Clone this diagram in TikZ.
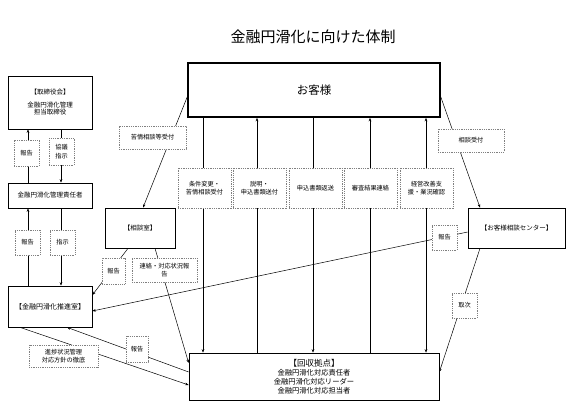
\documentclass[tikz,border=0pt]{standalone}
\usepackage{fontspec}
\setmainfont{Noto Sans CJK JP}
\usetikzlibrary{arrows.meta}

\begin{document}
\begin{tikzpicture}[
  x=1pt, y=-1pt,
  box/.style={rectangle, draw, line width=0.7pt, align=center, inner sep=1pt,
              font=\fontsize{6.5}{7.5}\selectfont},
  lbl/.style={rectangle, draw=gray, dash pattern=on 1pt off 0.8pt, fill=white,
              align=center, inner sep=1pt, font=\fontsize{6.2}{8.5}\selectfont},
  arr/.style={-{Stealth[length=3.5pt,width=2.6pt]}, line width=0.5pt},
]
  \useasboundingbox (0,0) rectangle (577,414);
  \node[font=\fontsize{15}{17}\selectfont] (title) at (313,37) {金融円滑化に向けた体制};

  % boxes
  \node[box, line width=1.6pt, minimum width=252pt, minimum height=54pt,
        font=\fontsize{11.5}{13}\selectfont] (cust) at (314,90) {お客様};
  \node[box, minimum width=84pt, minimum height=53pt] (board) at (50,102.5)
        {【取締役会】\\[5pt]金融円滑化管理\\担当取締役};
  \node[box, minimum width=84pt, minimum height=25pt] (mgr) at (50,195.5) {金融円滑化管理責任者};
  \node[box, minimum width=84pt, minimum height=41pt, font=\fontsize{7}{8}\selectfont]
        (promo) at (50,306.5) {【金融円滑化推進室】};
  \node[box, minimum width=70pt, minimum height=40pt] (soudan) at (140,228) {【相談室】};
  \node[box, minimum width=97pt, minimum height=40pt] (center) at (516.5,228) {【お客様相談センター】};
  \node[box, minimum width=250pt, minimum height=47pt, font=\fontsize{7.3}{8.7}\selectfont]
        (kaishu) at (314,376.5) {{\fontsize{8.5}{10}\selectfont【回収拠点】}\\[1pt]金融円滑化対応責任者\\金融円滑化対応リーダー\\金融円滑化対応担当者};

  % connectors
  \draw[arr] ([xshift=-111pt]cust.south) -- ([xshift=-111pt]kaishu.north);
  \draw[arr] ([xshift=-57pt]kaishu.north) -- ([xshift=-57pt]cust.south);
  \draw[arr] ([xshift=-1pt]cust.south) -- ([xshift=-1pt]kaishu.north);
  \draw[arr] ([xshift=56pt]kaishu.north) -- ([xshift=56pt]cust.south);
  \draw[arr, {Stealth[length=3.5pt,width=2.6pt]}-{Stealth[length=3.5pt,width=2.6pt]}]
        ([xshift=112pt]cust.south) -- ([xshift=112pt]kaishu.north);

  \draw[arr] ([xshift=-22pt]mgr.north) -- ([xshift=-22pt]board.south);
  \draw[arr] ([xshift=11pt]board.south) -- ([xshift=11pt]mgr.north);
  \draw[arr] ([xshift=-22pt]promo.north) -- ([xshift=-22pt]mgr.south);
  \draw[arr] ([xshift=11pt]mgr.south) -- ([xshift=11pt]promo.north);

  \draw[arr] ([yshift=-7pt]cust.west) -- ([xshift=3pt]soudan.north);
  \draw[arr] ([yshift=-7pt]cust.east) -- ([xshift=-36.5pt]center.north);
  \draw[arr] ([yshift=-4pt]center.west) -- ([yshift=-4.5pt]promo.east);
  \draw[arr] ([xshift=-36.5pt]center.south) -- ([yshift=4.5pt]kaishu.east);
  \draw[arr] ([xshift=-12pt]soudan.south) -- ([yshift=11.5pt]promo.east);
  \draw[arr] ([xshift=15pt]soudan.south) -- ([yshift=13.5pt]kaishu.west);
  \draw[arr] ([yshift=4.5pt]kaishu.west) -- ([xshift=17pt]promo.south);
  \draw[arr] ([xshift=-30pt]promo.south) -- ([yshift=-8.5pt]kaishu.west);

  % labels on connectors
  \node[lbl, minimum width=53pt, minimum height=40pt] (l1) at (204.5,188) {条件変更・\\苦情相談受付};
  \node[lbl, minimum width=53pt, minimum height=40pt] (l2) at (259.5,188) {説明・\\申込書類送付};
  \node[lbl, minimum width=53pt, minimum height=40pt] (l3) at (315.5,188) {申込書類返送};
  \node[lbl, minimum width=53pt, minimum height=40pt] (l4) at (370.5,188) {審査結果連絡};
  \node[lbl, minimum width=53pt, minimum height=40pt] (l5) at (426.5,188) {経営改善支\\援・業況確認};

  \node[lbl, minimum width=25pt, minimum height=26pt] (l6) at (26.5,153) {報告};
  \node[lbl, minimum width=25pt, minimum height=27pt] (l7) at (61.5,151.5) {協議\\指示};
  \node[lbl, minimum width=25pt, minimum height=25pt] (l8) at (27.5,242.5) {報告};
  \node[lbl, minimum width=25pt, minimum height=25pt] (l9) at (62.5,242.5) {指示};

  \node[lbl, minimum width=67pt, minimum height=23pt] (l10) at (152.5,137.5) {苦情相談等受付};
  \node[lbl, minimum width=66pt, minimum height=23pt] (l11) at (471,140.5) {相談受付};
  \node[lbl, minimum width=25pt, minimum height=25pt] (l12) at (444.5,237.5) {報告};
  \node[lbl, minimum width=25pt, minimum height=25pt] (l13) at (464.5,305.5) {取次};
  \node[lbl, minimum width=23pt, minimum height=26pt] (l14) at (113.5,271) {報告};
  \node[lbl, minimum width=65pt, minimum height=24pt] (l15) at (164.5,270) {連絡・対応状況報\\告};
  \node[lbl, minimum width=22pt, minimum height=26pt] (l16) at (137,349) {報告};
  \node[lbl, minimum width=69pt, minimum height=22pt] (l17) at (63.5,356) {進捗状況管理\\対応方針の徹底};
\end{tikzpicture}
\end{document}
